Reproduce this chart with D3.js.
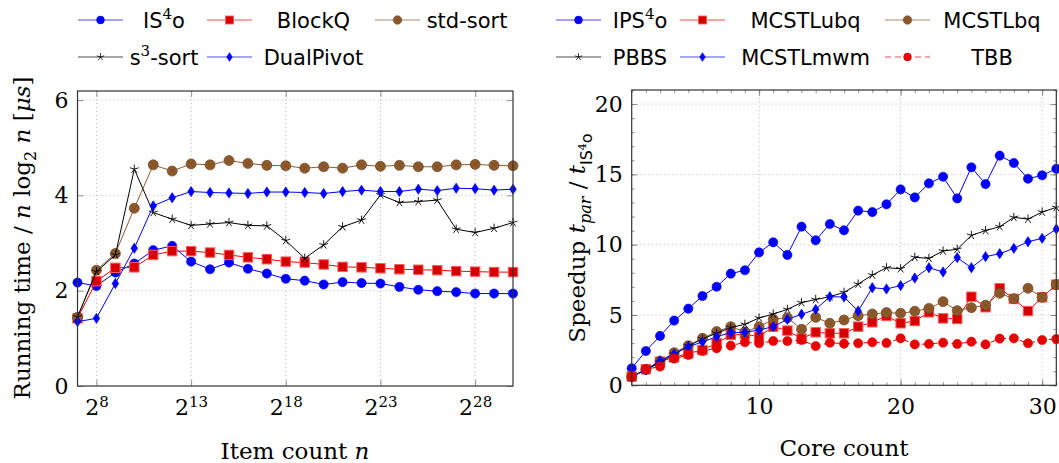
<!DOCTYPE html>
<html>
<head>
<meta charset="utf-8">
<script src="https://cdn.jsdelivr.net/npm/d3@7/dist/d3.min.js"></script>
<style>
  body { margin: 0; background: #fff; }
  .tick text { font-family: "DejaVu Serif", serif; font-size: 22px; fill: #000; }
  .label { font-family: "DejaVu Serif", serif; font-size: 23px; fill: #000; }
  .legend text { font-family: "DejaVu Sans", sans-serif; font-size: 21px; fill: #000; }
</style>
</head>
<body>
<div id="chart"></div>
<script>
// ---- left plot: running time / n log2 n, x = log2 of item count
var exponents = [7,8,9,10,11,12,13,14,15,16,17,18,19,20,21,22,23,24,25,26,27,28,29,30];
var is4o      = [2.17,2.10,2.38,2.57,2.85,2.94,2.61,2.45,2.59,2.46,2.36,2.25,2.21,2.13,2.18,2.16,2.15,2.08,2.02,1.99,1.97,1.94,1.94,1.94];
var blockq    = [1.42,2.20,2.48,2.49,2.75,2.83,2.83,2.80,2.75,2.70,2.66,2.61,2.59,2.55,2.50,2.49,2.47,2.45,2.44,2.43,2.41,2.40,2.39,2.39];
var stdsort   = [1.44,2.43,2.78,3.73,4.64,4.51,4.66,4.64,4.73,4.67,4.63,4.62,4.57,4.60,4.57,4.64,4.61,4.63,4.60,4.60,4.64,4.65,4.63,4.62];
var s3sort    = [1.45,2.40,2.75,4.55,3.64,3.50,3.37,3.40,3.43,3.37,3.36,3.05,2.68,2.96,3.34,3.48,4.01,3.85,3.87,3.90,3.29,3.22,3.31,3.43];
var dualpivot = [1.35,1.42,2.15,2.89,3.78,3.95,4.08,4.06,4.05,4.04,4.07,4.07,4.06,4.04,4.08,4.11,4.08,4.08,4.13,4.10,4.15,4.14,4.11,4.13];
var leftYTicks = [0,2,4,6];
var leftXTicks = [8,13,18,23,28];

// ---- right plot: speedup over sequential IS4o
var cores    = [1,2,3,4,5,6,7,8,9,10,11,12,13,14,15,16,17,18,19,20,21,22,23,24,25,26,27,28,29,30,31];
var ips4o    = [1.21,2.44,3.51,4.60,5.45,6.35,7.01,7.94,8.18,9.45,10.17,9.27,11.28,10.31,11.47,11.02,12.42,12.32,12.87,13.93,13.36,14.36,14.83,13.29,15.50,14.31,16.33,15.81,14.69,14.93,15.40];
var mcstlubq = [0.62,1.14,1.68,1.99,2.27,2.51,2.99,3.58,3.63,3.46,4.17,3.89,3.32,3.77,3.70,3.70,4.17,4.48,4.93,4.41,4.57,5.19,4.76,4.72,6.30,5.55,6.90,6.14,5.28,6.26,7.16];
var mcstlbq  = [0.62,1.12,1.70,2.32,2.82,3.34,3.82,4.17,3.80,4.17,4.69,4.81,3.98,4.83,4.41,4.64,4.95,5.07,5.17,5.12,5.26,5.47,5.95,5.31,5.52,5.69,6.54,6.16,6.90,6.26,7.16];
var pbbs     = [0.60,1.10,1.62,2.20,2.80,3.30,3.70,4.10,4.34,4.79,5.07,5.40,5.88,6.10,6.30,6.61,7.20,7.84,8.36,8.29,9.10,9.03,9.55,9.67,10.66,11.00,11.28,11.94,11.82,12.32,12.65];
var mcstlmwm = [0.60,1.10,1.75,2.23,2.75,3.08,3.46,3.74,3.77,3.93,4.17,4.69,5.05,5.40,6.30,6.28,5.28,6.94,6.85,7.09,7.63,8.36,8.06,9.08,8.36,9.15,9.36,9.74,10.21,10.45,11.11];
var tbb      = [0.62,1.14,1.33,1.90,2.16,2.44,2.63,2.82,3.06,2.99,3.15,3.15,3.22,2.79,3.03,2.96,2.99,3.06,3.01,3.34,2.91,2.94,3.03,2.94,3.10,2.91,3.32,3.34,2.99,3.22,3.29];
var rightYTicks = [0,5,10,15,20];
var rightXTicks = [10,20,30];

var BLUE = "#0000ff", RED = "#ff0000", BROWN = "#8f5b2c", BLACK = "#000";

var width = 1059, height = 463;

var svg = d3.select("#chart").append("svg")
  .attr("width", width)
  .attr("height", height);

// marker drawing, pgfplots like
function marker(g, type, color) {
  if (type === "circle") {
    g.append("circle").attr("r", 4.6).attr("fill", color).attr("stroke", color).attr("stroke-width", 0.6);
  } else if (type === "square") {
    g.append("rect").attr("x", -4.7).attr("y", -4.7).attr("width", 9.4).attr("height", 9.4)
      .attr("fill", "#d60000").attr("stroke", "#ff5a5a").attr("stroke-width", 1);
  } else if (type === "otimes") {
    g.append("circle").attr("r", 5).attr("fill", BROWN).attr("stroke", "#6e4420").attr("stroke-width", 0.7);
    g.append("path").attr("d", "M-3.4,-3.4L3.4,3.4M-3.4,3.4L3.4,-3.4")
      .attr("stroke", "#6e4420").attr("stroke-width", 0.6);
  } else if (type === "star") {
    var d = "";
    for (var k = 0; k < 5; k++) {
      var a = -Math.PI / 2 + k * 2 * Math.PI / 5;
      d += "M0,0L" + (4.6 * Math.cos(a)).toFixed(2) + "," + (4.6 * Math.sin(a)).toFixed(2);
    }
    g.append("path").attr("d", d).attr("stroke", BLACK).attr("stroke-width", 0.9).attr("fill", "none");
  } else if (type === "diamond") {
    g.append("path").attr("d", "M0,-5.2L3.4,0L0,5.2L-3.4,0Z").attr("fill", color).attr("stroke", color).attr("stroke-width", 0.5);
  }
}

function panel(opt) {
  var xs = d3.scaleLinear().domain(opt.xDomain).range([opt.x0, opt.x1]);
  var ys = d3.scaleLinear().domain(opt.yDomain).range([opt.y1, opt.y0]);
  var g = svg.append("g");

  // dotted grid
  g.selectAll(".gx").data(opt.xTicks).enter().append("line")
    .attr("x1", d => xs(d)).attr("x2", d => xs(d))
    .attr("y1", opt.y0).attr("y2", opt.y1)
    .attr("stroke", "#a8a8a8").attr("stroke-width", 0.8).attr("stroke-dasharray", "1,3");
  g.selectAll(".gy").data(opt.yTicks.filter(d => d > opt.yDomain[0])).enter().append("line")
    .attr("x1", opt.x0).attr("x2", opt.x1)
    .attr("y1", d => ys(d)).attr("y2", d => ys(d))
    .attr("stroke", "#a8a8a8").attr("stroke-width", 0.8).attr("stroke-dasharray", "1,3");

  // inward ticks on all four sides
  var tickCol = "#7a7a7a";
  function ticks(vals, len, lbl) {
    var xa = d3.axisBottom(xs).tickValues(vals.x).tickSizeInner(-len).tickSizeOuter(0).tickPadding(13).tickFormat(lbl ? opt.xFormat : "");
    var gb = g.append("g").attr("transform", "translate(0," + opt.y1 + ")").call(xa);
    var gt = g.append("g").attr("transform", "translate(0," + opt.y0 + ")")
      .call(d3.axisTop(xs).tickValues(vals.x).tickSizeInner(-len).tickSizeOuter(0).tickFormat(""));
    var ya = d3.axisLeft(ys).tickValues(vals.y).tickSizeInner(-len).tickSizeOuter(0).tickPadding(9).tickFormat(lbl ? d3.format("d") : "");
    var gl = g.append("g").attr("transform", "translate(" + opt.x0 + ",0)").call(ya);
    var gr = g.append("g").attr("transform", "translate(" + opt.x1 + ",0)")
      .call(d3.axisRight(ys).tickValues(vals.y).tickSizeInner(-len).tickSizeOuter(0).tickFormat(""));
    [gb, gt, gl, gr].forEach(function (a) {
      a.select(".domain").remove();
      a.selectAll("line").attr("stroke", tickCol).attr("stroke-width", 0.8);
    });
    return { bottom: gb, left: gl };
  }
  if (opt.minorX) ticks({ x: opt.minorX, y: opt.minorY }, 3, false);
  var major = ticks({ x: opt.xTicks, y: opt.yTicks }, 6, true);
  if (opt.xSup) {
    major.bottom.selectAll(".tick text").each(function (d) {
      var t = d3.select(this).text("2");
      t.append("tspan").attr("dy", "-0.5em").style("font-size", "15px").text(d);
    });
  }

  // series
  opt.series.forEach(function (s) {
    var pts = opt.xs.map((x, i) => [x, s.values[i]]);
    var line = d3.line().x(d => xs(d[0])).y(d => ys(d[1]));
    g.append("path").datum(pts)
      .attr("fill", "none")
      .attr("stroke", s.color)
      .attr("stroke-width", 1)
      .attr("stroke-dasharray", s.dash || null)
      .attr("d", line);
    pts.forEach(function (p) {
      var m = g.append("g").attr("transform", "translate(" + xs(p[0]) + "," + ys(p[1]) + ")");
      marker(m, s.marker, s.color);
    });
  });

  // frame
  g.append("rect")
    .attr("x", opt.x0).attr("y", opt.y0)
    .attr("width", opt.x1 - opt.x0).attr("height", opt.y1 - opt.y0)
    .attr("fill", "none").attr("stroke", "#333").attr("stroke-width", 1.2);

  // legend
  var lg = svg.append("g").attr("class", "legend");
  opt.series.forEach(function (s, i) {
    var col = i % 3, row = Math.floor(i / 3);
    var lx = opt.legendLineX[col], cy = opt.legendRowY[row];
    lg.append("line").attr("x1", lx).attr("x2", lx + 45).attr("y1", cy).attr("y2", cy)
      .attr("stroke", s.color).attr("stroke-width", 1.1).attr("stroke-opacity", 0.7)
      .attr("stroke-dasharray", s.dash || null);
    marker(lg.append("g").attr("transform", "translate(" + (lx + 22.5) + "," + cy + ") scale(0.85)"), s.marker, s.color);
    var t = lg.append("text").attr("x", opt.legendTextX[col]).attr("y", cy).attr("dy", "0.36em")
      .attr("text-anchor", "middle");
    s.label(t);
  });
  return g;
}

function plainLabel(str) { return function (t) { t.text(str); }; }
function supLabel(a, sup, b) {
  return function (t) {
    t.append("tspan").text(a);
    t.append("tspan").attr("dy", -9).style("font-family", "DejaVu Serif, serif").style("font-size", "15px").text(sup);
    t.append("tspan").attr("dy", 9).text(b);
  };
}

panel({
  x0: 77.5, x1: 513, y0: 91, y1: 386,
  xDomain: [7, 30], yDomain: [0, 6.19],
  xs: exponents, xTicks: leftXTicks, yTicks: leftYTicks, xSup: true,
  xFormat: d => d,
  legendLineX: [78, 207, 375], legendTextX: [164, 313.5, 467], legendRowY: [20, 57],
  series: [
    { values: is4o, color: BLUE, marker: "circle", label: supLabel("IS", "4", "o") },
    { values: blockq, color: RED, marker: "square", label: plainLabel("BlockQ") },
    { values: stdsort, color: BROWN, marker: "otimes", label: plainLabel("std-sort") },
    { values: s3sort, color: BLACK, marker: "star", label: supLabel("s", "3", "-sort") },
    { values: dualpivot, color: BLUE, marker: "diamond", label: plainLabel("DualPivot") }
  ]
});

panel({
  x0: 631.7, x1: 1056.3, y0: 90, y1: 385.3,
  xDomain: [1, 31], yDomain: [0, 21],
  xs: cores, xTicks: rightXTicks, yTicks: rightYTicks,
  minorX: cores, minorY: d3.range(0, 22),
  xFormat: d3.format("d"),
  legendLineX: [556, 680, 885], legendTextX: [640, 805.5, 992], legendRowY: [20, 57],
  series: [
    { values: ips4o, color: BLUE, marker: "circle", label: supLabel("IPS", "4", "o") },
    { values: mcstlubq, color: RED, marker: "square", label: plainLabel("MCSTLubq") },
    { values: mcstlbq, color: BROWN, marker: "otimes", label: plainLabel("MCSTLbq") },
    { values: pbbs, color: BLACK, marker: "star", label: plainLabel("PBBS") },
    { values: mcstlmwm, color: BLUE, marker: "diamond", label: plainLabel("MCSTLmwm") },
    { values: tbb, color: "#e60000", marker: "circle", dash: "6,4", label: plainLabel("TBB") }
  ]
});

// axis labels
svg.append("text").attr("class", "label")
  .attr("x", 295).attr("y", 451).attr("dy", "0.35em").attr("text-anchor", "middle")
  .call(function (t) {
    t.append("tspan").text("Item count ");
    t.append("tspan").style("font-style", "italic").text("n");
  });

svg.append("text").attr("class", "label")
  .attr("x", 844).attr("y", 448).attr("dy", "0.35em").attr("text-anchor", "middle")
  .text("Core count");

var yl = svg.append("text").attr("class", "label")
  .attr("transform", "translate(30,238) rotate(-90)")
  .attr("text-anchor", "middle");
yl.append("tspan").text("Running time / ");
yl.append("tspan").style("font-style", "italic").text("n");
yl.append("tspan").text(" log");
yl.append("tspan").attr("dy", 6).style("font-size", "16px").text("2");
yl.append("tspan").attr("dy", -6).text(" ");
yl.append("tspan").style("font-style", "italic").text("n");
yl.append("tspan").text(" [");
yl.append("tspan").style("font-style", "italic").text("μs");
yl.append("tspan").text("]");

var yr = svg.append("text").attr("class", "label")
  .attr("transform", "translate(585,238) rotate(-90)")
  .attr("text-anchor", "middle");
yr.append("tspan").text("Speedup ");
yr.append("tspan").style("font-style", "italic").text("t");
yr.append("tspan").attr("dy", 6).style("font-size", "16px").style("font-style", "italic").text("par");
yr.append("tspan").attr("dy", -6).text(" / ");
yr.append("tspan").style("font-style", "italic").text("t");
yr.append("tspan").attr("dy", 7).style("font-family", "DejaVu Sans, sans-serif").style("font-size", "16px").text("IS");
yr.append("tspan").attr("dy", -6).style("font-size", "11px").text("4");
yr.append("tspan").attr("dy", 6).style("font-family", "DejaVu Sans, sans-serif").style("font-size", "16px").text("o");
</script>
</body>
</html>
